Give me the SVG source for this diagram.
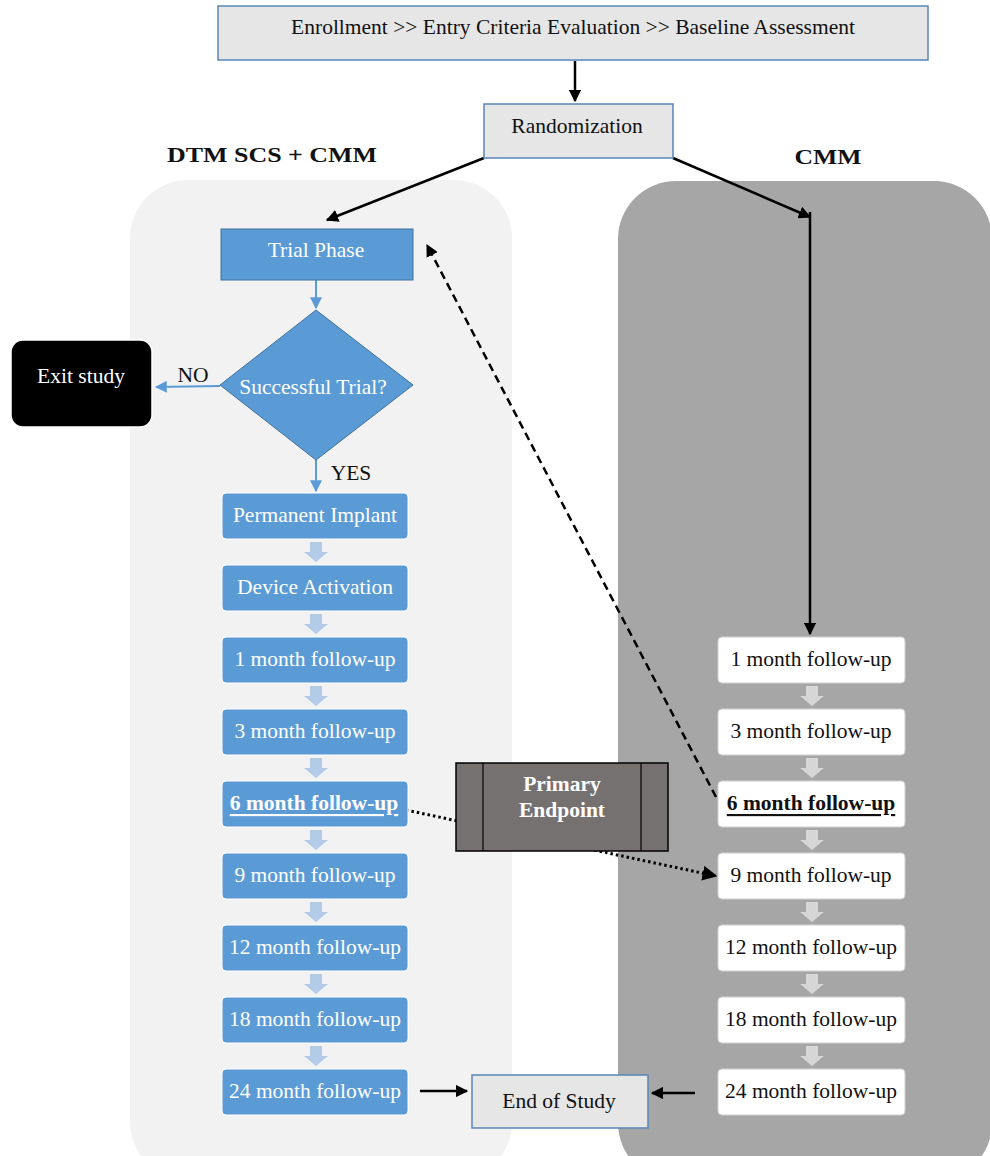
<svg xmlns="http://www.w3.org/2000/svg" width="990" height="1156" viewBox="0 0 990 1156">
<defs>
<style>
.t{font-family:"Liberation Serif","Times New Roman",serif;font-size:21.5px;text-anchor:middle;dominant-baseline:central}
.w{fill:#ffffff}
.k{fill:#111111}
.b{font-weight:bold}
.gbox{fill:#e6e6e6;stroke:#5a86b8;stroke-width:1.5}
.blue{fill:#5b9bd5;stroke:#ffffff;stroke-width:1}
.wht{fill:#ffffff;stroke:#d0d0d0;stroke-width:1}
.blk{stroke:#000;stroke-width:2.5;fill:none}
.bl{stroke:#5b9bd5;stroke-width:2;fill:none}
</style>
<marker id="ak" viewBox="0 0 10 10" refX="9" refY="5" markerWidth="5" markerHeight="5" orient="auto" markerUnits="strokeWidth"><path d="M0,0 L10,5 L0,10 z" fill="#000"/></marker>
<marker id="ab" viewBox="0 0 10 10" refX="9" refY="5" markerWidth="6" markerHeight="6" orient="auto" markerUnits="strokeWidth"><path d="M0,0 L10,5 L0,10 z" fill="#5b9bd5"/></marker>
<path id="bla" d="M-6,0 h12 v10 h6 l-12,10 l-12,-10 h6 z"/>
</defs>
<rect width="990" height="1156" fill="#ffffff"/>
<g id="panel-left"><rect x="130" y="180" width="382" height="1000" rx="58" fill="#f2f2f2"/></g>
<g id="panel-right"><rect x="618" y="181" width="374" height="1000" rx="58" fill="#a6a6a6"/></g>

<g id="header-left"><text class="t k b" x="272" y="155" font-size="29" textLength="210" lengthAdjust="spacingAndGlyphs">DTM SCS + CMM</text></g>
<g id="header-right"><text class="t k b" x="828" y="157" font-size="29" textLength="67" lengthAdjust="spacingAndGlyphs">CMM</text></g>

<g id="connectors">
<line class="blk" x1="575" y1="61" x2="575" y2="101" marker-end="url(#ak)"/>
<line class="blk" x1="484" y1="158" x2="327" y2="220" marker-end="url(#ak)"/>
<line class="blk" x1="673" y1="158" x2="810" y2="217" marker-end="url(#ak)"/>
<line class="blk" x1="810" y1="212" x2="810" y2="634" marker-end="url(#ak)"/>
<line class="bl" x1="316" y1="280" x2="316" y2="308" marker-end="url(#ab)"/>
<line class="bl" x1="220" y1="386" x2="156" y2="387" marker-end="url(#ab)"/>
<line class="bl" x1="316" y1="460" x2="316" y2="491" marker-end="url(#ab)"/>
<line stroke="#000" stroke-width="2.5" stroke-dasharray="8,5" x1="716" y1="797" x2="427" y2="245" marker-end="url(#ak)"/>
<line stroke="#000" stroke-width="3" stroke-dasharray="2.5,3" x1="406" y1="810" x2="716" y2="876" marker-end="url(#ak)"/>
<line class="blk" x1="420" y1="1091" x2="467" y2="1091" marker-end="url(#ak)"/>
<line class="blk" x1="695" y1="1093" x2="652" y2="1093" marker-end="url(#ak)"/>
<g fill="#b4cbe8">
<use href="#bla" x="316" y="542"/><use href="#bla" x="316" y="614"/><use href="#bla" x="316" y="686"/><use href="#bla" x="316" y="758"/><use href="#bla" x="316" y="830"/><use href="#bla" x="316" y="902"/><use href="#bla" x="316" y="974"/><use href="#bla" x="316" y="1046"/>
</g>
<g fill="#d6d6d6">
<use href="#bla" x="812" y="686"/><use href="#bla" x="812" y="758"/><use href="#bla" x="812" y="830"/><use href="#bla" x="812" y="902"/><use href="#bla" x="812" y="974"/><use href="#bla" x="812" y="1046"/>
</g>
</g>

<g id="enrollment"><rect class="gbox" x="218" y="6" width="710" height="54"/><text class="t k" x="573" y="27" font-size="20.4">Enrollment &gt;&gt; Entry Criteria Evaluation &gt;&gt; Baseline Assessment</text></g>
<g id="randomization"><rect class="gbox" x="484" y="104" width="189" height="54"/><text class="t k" x="577" y="126" font-size="20.4">Randomization</text></g>
<g id="trial-phase"><rect x="221" y="229" width="192" height="51" fill="#5b9bd5" stroke="#41719c" stroke-width="1"/><text class="t w" x="316" y="250">Trial Phase</text></g>
<g id="successful-trial"><path d="M316,310 L413,385 L316,460 L220,385 z" fill="#5b9bd5" stroke="#41719c" stroke-width="1"/><text class="t w" x="313" y="387">Successful Trial?</text></g>
<g id="exit-study"><rect x="11" y="340" width="141" height="87" rx="12" fill="#000" stroke="#fff" stroke-width="1.5"/><text class="t w" x="81" y="376">Exit study</text></g>
<g id="label-no"><text class="t k" x="193" y="375" font-size="16">NO</text></g>
<g id="label-yes"><text class="t k" x="351" y="473" font-size="16">YES</text></g>

<g id="l-permanent"><rect class="blue" x="222" y="493" width="186" height="46" rx="4"/><text class="t w" x="315" y="515">Permanent Implant</text></g>
<g id="l-device"><rect class="blue" x="222" y="565" width="186" height="46" rx="4"/><text class="t w" x="315" y="587">Device Activation</text></g>
<g id="l-1"><rect class="blue" x="222" y="637" width="186" height="46" rx="4"/><text class="t w" x="315" y="659">1 month follow-up</text></g>
<g id="l-3"><rect class="blue" x="222" y="709" width="186" height="46" rx="4"/><text class="t w" x="315" y="731">3 month follow-up</text></g>
<g id="l-6"><rect class="blue" x="222" y="781" width="186" height="46" rx="4"/><text class="t w b" x="314" y="803" font-size="20" text-decoration="underline">6 month follow-up</text></g>
<g id="l-9"><rect class="blue" x="222" y="853" width="186" height="46" rx="4"/><text class="t w" x="315" y="875">9 month follow-up</text></g>
<g id="l-12"><rect class="blue" x="222" y="925" width="186" height="46" rx="4"/><text class="t w" x="315" y="947">12 month follow-up</text></g>
<g id="l-18"><rect class="blue" x="222" y="997" width="186" height="46" rx="4"/><text class="t w" x="315" y="1019">18 month follow-up</text></g>
<g id="l-24"><rect class="blue" x="222" y="1069" width="186" height="46" rx="4"/><text class="t w" x="315" y="1091">24 month follow-up</text></g>

<g id="r-1"><rect class="wht" x="718" y="637" width="187" height="46" rx="4"/><text class="t k" x="811" y="659">1 month follow-up</text></g>
<g id="r-3"><rect class="wht" x="718" y="709" width="187" height="46" rx="4"/><text class="t k" x="811" y="731">3 month follow-up</text></g>
<g id="r-6"><rect class="wht" x="718" y="781" width="187" height="46" rx="4"/><text class="t k b" x="811" y="803" font-size="20" text-decoration="underline">6 month follow-up</text></g>
<g id="r-9"><rect class="wht" x="718" y="853" width="187" height="46" rx="4"/><text class="t k" x="811" y="875">9 month follow-up</text></g>
<g id="r-12"><rect class="wht" x="718" y="925" width="187" height="46" rx="4"/><text class="t k" x="811" y="947">12 month follow-up</text></g>
<g id="r-18"><rect class="wht" x="718" y="997" width="187" height="46" rx="4"/><text class="t k" x="811" y="1019">18 month follow-up</text></g>
<g id="r-24"><rect class="wht" x="718" y="1069" width="187" height="46" rx="4"/><text class="t k" x="811" y="1091">24 month follow-up</text></g>

<g id="primary-endpoint"><rect x="456" y="763" width="212" height="88" fill="#767171" stroke="#000" stroke-width="1.5"/><line x1="483" y1="763" x2="483" y2="851" stroke="#000" stroke-width="1.2"/><line x1="641" y1="763" x2="641" y2="851" stroke="#000" stroke-width="1.2"/><text class="t w b" x="562" y="784">Primary</text><text class="t w b" x="562" y="810">Endpoint</text></g>
<g id="end-of-study"><rect class="gbox" x="472" y="1075" width="176" height="53"/><text class="t k" x="559" y="1101">End of Study</text></g>
</svg>
